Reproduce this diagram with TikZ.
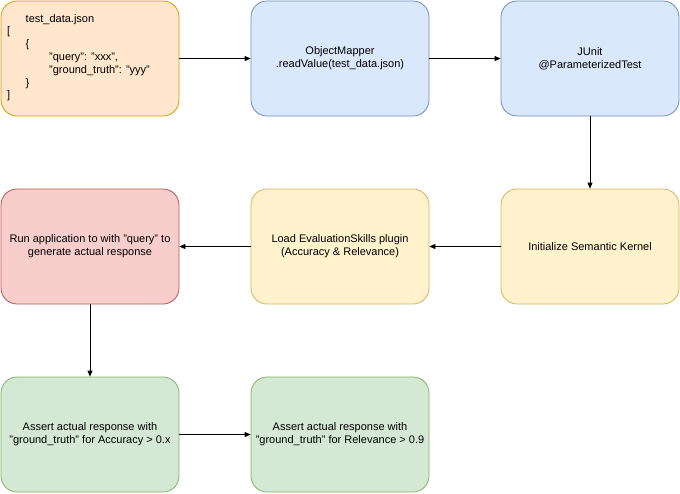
\documentclass[tikz,border=0pt]{standalone}
\usepackage{fontspec}
\setmainfont{Liberation Sans}
\usetikzlibrary{arrows.meta}
\definecolor{orfill}{HTML}{FFE6CC}\definecolor{ordraw}{HTML}{D79B00}
\definecolor{blfill}{HTML}{DAE8FC}\definecolor{bldraw}{HTML}{6C8EBF}
\definecolor{yefill}{HTML}{FFF2CC}\definecolor{yedraw}{HTML}{D6B656}
\definecolor{refill}{HTML}{F8CECC}\definecolor{redraw}{HTML}{B85450}
\definecolor{grfill}{HTML}{D5E8D4}\definecolor{grdraw}{HTML}{82B366}
\begin{document}
\begin{tikzpicture}[x=1pt,y=-1pt,
  box/.style={rectangle, rounded corners=16pt, minimum width=178pt, minimum height=115pt, line width=0.8pt, align=center, font=\fontsize{11}{13}\selectfont, inner sep=2pt},
  orbox/.style={box, fill=orfill, draw=ordraw},
  blbox/.style={box, fill=blfill, draw=bldraw},
  yebox/.style={box, fill=yefill, draw=yedraw},
  rebox/.style={box, fill=refill, draw=redraw},
  grbox/.style={box, fill=grfill, draw=grdraw},
  conn/.style={-{Triangle[length=6pt,width=5pt]}, line width=0.8pt, black}]
\useasboundingbox (0,0) rectangle (680,493);
\node[orbox] (b1) at (90,58.5) {};
\node[anchor=north west, align=left, inner sep=0pt, font=\fontsize{11}{12.8}\selectfont] (t1) at (7,14)
  {\hspace{18.5pt}test\_data.json\\
   {[}\\
   \hspace{18.5pt}\{\\
   \hspace{42pt}"query": "xxx",\\
   \hspace{42pt}"ground\_truth": "yyy"\\
   \hspace{18.5pt}\}\\
   {]}};
\node[blbox] (b2) at (340,58.5) {ObjectMapper\\.readValue(test\_data.json)};
\node[blbox] (b3) at (590,58.5) {JUnit\\@ParameterizedTest};
\node[yebox] (b6) at (590,246.5) {Initialize Semantic Kernel};
\node[yebox] (b5) at (340,246.5) {Load EvaluationSkills plugin\\(Accuracy \& Relevance)};
\node[rebox] (b4) at (90,246.5) {Run application to with "query" to\\generate actual response};
\node[grbox] (b7) at (90,434.5) {Assert actual response with\\"ground\_truth" for Accuracy > 0.x};
\node[grbox] (b8) at (340,434.5) {Assert actual response with\\"ground\_truth" for Relevance > 0.9};
\draw[conn] (b1) -- (b2);
\draw[conn] (b2) -- (b3);
\draw[conn] (b3) -- (b6);
\draw[conn] (b6) -- (b5);
\draw[conn] (b5) -- (b4);
\draw[conn] (b4) -- (b7);
\draw[conn] (b7) -- (b8);
\end{tikzpicture}
\end{document}
